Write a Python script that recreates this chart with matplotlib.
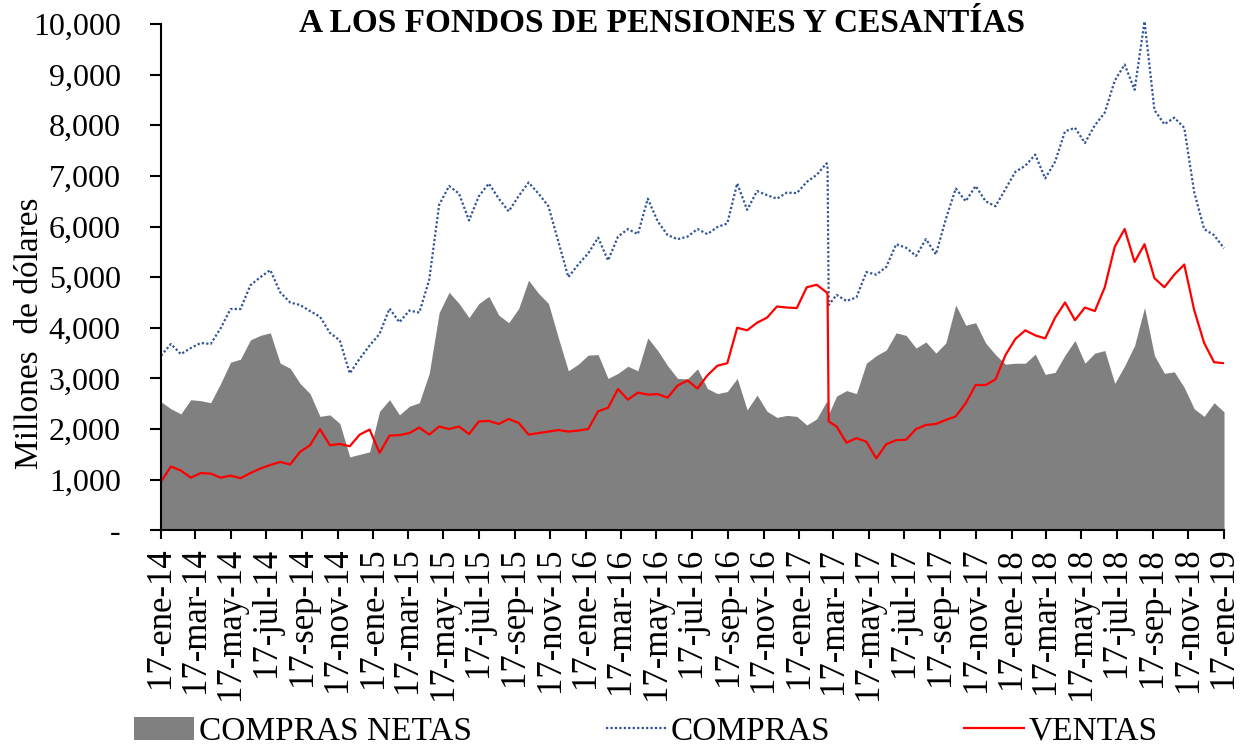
import pandas as pd
import matplotlib
matplotlib.use("Agg")
import matplotlib.pyplot as plt
from matplotlib.patches import Patch
from matplotlib.lines import Line2D
from matplotlib.ticker import FuncFormatter

plt.rcParams['font.family'] = ['Liberation Serif', 'DejaVu Serif']

# Fechas: muestreo regular entre 17-ene-14 y 17-ene-19, mas dos puntos en el salto de marzo 2017
fechas = pd.date_range("2014-01-17", "2019-01-17", periods=108)
fechas = fechas.append(pd.DatetimeIndex(["2017-03-07", "2017-03-09"])).sort_values()

# Millones de dolares
compras = [
    3450, 3680, 3480, 3600, 3700, 3680, 3990, 4370, 4370, 4840, 5000, 5140, 4700, 4500,
    4450, 4330, 4220, 3900, 3750, 3100, 3390, 3650, 3880, 4380, 4110, 4340, 4300,
    4950, 6430, 6800, 6650, 6120, 6600, 6850, 6550, 6300, 6600, 6870, 6650, 6400,
    5700, 5000, 5250, 5470, 5780, 5330, 5800, 5950, 5850, 6550, 6100, 5830, 5750, 5800,
    5950, 5850, 5990, 6060, 6850, 6330, 6700, 6620, 6550, 6670, 6660, 6880, 7020, 7250,
    7150, 4450,
    4650, 4530, 4600, 5100, 5050, 5200, 5650, 5580, 5420, 5750, 5450, 6150, 6750,
    6500, 6800, 6500, 6400, 6740, 7080, 7200, 7420, 6950, 7280, 7880, 7950, 7650, 8000,
    8250, 8880, 9200, 8700, 10050, 8300, 8020, 8150, 7950, 6680, 5950, 5830, 5570,
]
ventas = [
    960, 1260, 1180, 1040, 1130, 1120, 1040, 1080, 1030, 1130, 1220, 1290, 1350, 1300,
    1550, 1680, 2000, 1680, 1705, 1660, 1890, 1990, 1530, 1870, 1880, 1920, 2030,
    1890, 2050, 2000, 2050, 1900, 2150, 2160, 2100, 2200, 2120, 1890, 1920, 1950,
    1980, 1950, 1970, 2000, 2350, 2420, 2790, 2580, 2720, 2680, 2690, 2620, 2860, 2960,
    2800, 3060, 3250, 3300, 4000, 3950, 4100, 4200, 4420, 4400, 4390, 4800, 4850, 4700,
    4650, 2150,
    2050, 1730, 1820, 1750, 1420, 1700, 1780, 1790, 2000, 2080, 2100, 2180, 2250,
    2510, 2870, 2870, 2980, 3460, 3780, 3950, 3850, 3790, 4200, 4500, 4150, 4400, 4330,
    4800, 5600, 5950, 5300, 5650, 4980, 4800, 5050, 5250, 4350, 3700, 3320, 3300,
]
compras_netas = [
    2540, 2400, 2300, 2580, 2560, 2520, 2900, 3320, 3380, 3760, 3850, 3900, 3300, 3200,
    2900, 2700, 2250, 2280, 2110, 1450, 1500, 1550, 2350, 2580, 2280, 2450, 2520,
    3100, 4300, 4700, 4480, 4200, 4480, 4620, 4250, 4100, 4380, 4940, 4680, 4480,
    3800, 3150, 3280, 3460, 3470, 3000, 3100, 3240, 3150, 3800, 3550, 3250, 3000, 2990,
    3190, 2800, 2700, 2740, 3000, 2380, 2670, 2350, 2230, 2270, 2250, 2080, 2200, 2550,
    2500, 2300,
    2650, 2760, 2700, 3300, 3450, 3560, 3900, 3850, 3600, 3720, 3500, 3700, 4450,
    4050, 4100, 3700, 3470, 3280, 3300, 3300, 3480, 3080, 3120, 3460, 3750, 3300, 3500,
    3550, 2900, 3250, 3650, 4400, 3450, 3100, 3130, 2820, 2400, 2250, 2520, 2340,
]

meses = ["ene", "feb", "mar", "abr", "may", "jun", "jul", "ago", "sep", "oct", "nov", "dic"]
marcas = pd.date_range("2014-01-01", "2019-01-01", freq="2MS") + pd.Timedelta(days=16)
etiquetas = [f"17-{meses[d.month - 1]}-{d.year % 100:02d}" for d in marcas]

fig = plt.figure(figsize=(12.4, 7.45), dpi=100)
ax = fig.add_axes([161 / 1240, 1 - 530.3 / 745, 1063 / 1240, 506.3 / 745])

ax.fill_between(fechas, 0, compras_netas, color="#808080", lw=0)
ax.plot(fechas, compras, color="#2F5597", lw=1.6, ls=(0, (1, 1)), clip_on=False)
ax.plot(fechas, ventas, color="#FF0000", lw=1.6)

ax.set_xlim(fechas[0], fechas[-1])
ax.set_ylim(0, 10000)
ax.set_yticks(range(0, 10001, 1000))
ax.yaxis.set_major_formatter(FuncFormatter(lambda v, p: "-" if v == 0 else f"{v:,.0f}"))
ax.set_xticks(marcas)
ax.set_xticklabels(etiquetas, rotation=90)

for lado in ["top", "right"]:
    ax.spines[lado].set_visible(False)
for lado in ["left", "bottom"]:
    ax.spines[lado].set_linewidth(1.5)
ax.tick_params(axis="y", labelsize=23, length=8, width=1.5, pad=21)
ax.tick_params(axis="x", labelsize=25, length=6.5, width=1.5, pad=6)

fig.text(0.5335, 0.968, "A LOS FONDOS DE PENSIONES Y CESANTÍAS", ha="center", va="center",
         fontsize=24, fontweight="bold")
fig.text(30 / 1240, 1 - 333 / 745, "Millones  de dólares", rotation=90, ha="center",
         va="center", fontsize=24)

handles = [
    Patch(facecolor="#808080", edgecolor="none"),
    Line2D([], [], color="#2F5597", lw=1.6, ls=(0, (1, 1))),
    Line2D([], [], color="#FF0000", lw=1.6),
]
fig.legend(handles, ["COMPRAS NETAS", "COMPRAS", "VENTAS"], loc="center",
           bbox_to_anchor=(0.521, 0.018), ncol=3, frameon=False, fontsize=24,
           handlelength=1.8, handletextpad=0.15, columnspacing=4.0)

fig.savefig("out.png", dpi=100)
